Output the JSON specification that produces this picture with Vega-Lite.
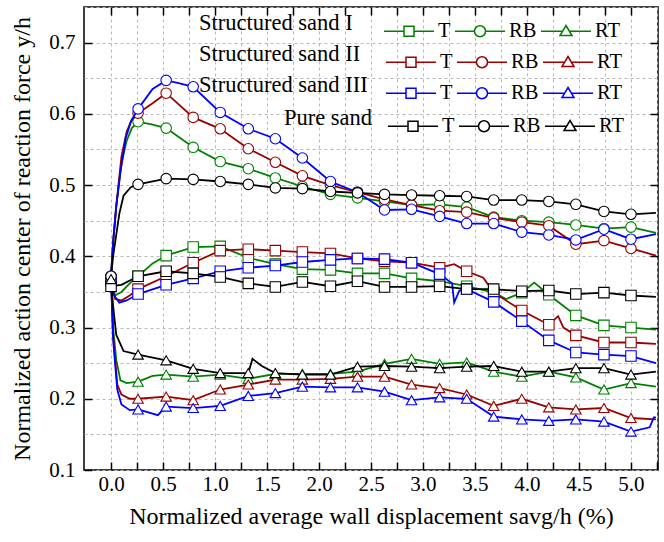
{
"$schema":"https://vega.github.io/schema/vega-lite/v6.json",
"width":574,"height":463,
"autosize":"none",
"padding":{"left":84,"top":7,"right":6,"bottom":72},
"background":"white",
"config":{
 "font":"Liberation Serif",
 "view":{"stroke":"black","strokeWidth":1.5},
 "axis":{"labelFont":"Liberation Serif","titleFont":"Liberation Serif","labelColor":"black","titleColor":"black","labelFontSize":21,"titleFontSize":24,"titleFontWeight":"normal","gridColor":"#b8b8b8","gridDash":[3,3],"gridWidth":1,"tickColor":"black","tickWidth":1.5,"domain":false},
 "legend":{"orient":"none","padding":0,"titleOrient":"left","titleAngle":0,"titleFont":"Liberation Serif","titleFontSize":22.5,"titleFontWeight":"normal","titleColor":"black","titleBaseline":"middle","titleAnchor":"middle","labelFont":"Liberation Serif","labelFontSize":20.5,"labelColor":"black","symbolSize":2500,"direction":"vertical","columns":3,"columnPadding":1,"labelOffset":3,"symbolStrokeWidth":1.5}
},
"datasets":{"d":[
{"s":"I","p":"T","x":0,"y":0.365},{"s":"I","p":"T","x":0.04,"y":0.345},{"s":"I","p":"T","x":0.1,"y":0.35},{"s":"I","p":"T","x":0.18,"y":0.362},{"s":"I","p":"T","x":0.26,"y":0.372},{"s":"I","p":"T","x":0.4,"y":0.39},{"s":"I","p":"T","x":0.53,"y":0.401},{"s":"I","p":"T","x":0.79,"y":0.413},{"s":"I","p":"T","x":1.05,"y":0.414},{"s":"I","p":"T","x":1.32,"y":0.398},{"s":"I","p":"T","x":1.58,"y":0.389},{"s":"I","p":"T","x":1.84,"y":0.382},{"s":"I","p":"T","x":2.11,"y":0.381},{"s":"I","p":"T","x":2.37,"y":0.376},{"s":"I","p":"T","x":2.63,"y":0.376},{"s":"I","p":"T","x":2.89,"y":0.369},{"s":"I","p":"T","x":3.16,"y":0.365},{"s":"I","p":"T","x":3.42,"y":0.358},{"s":"I","p":"T","x":3.68,"y":0.349},{"s":"I","p":"T","x":3.8,"y":0.34},{"s":"I","p":"T","x":3.95,"y":0.349},{"s":"I","p":"T","x":4.07,"y":0.363},{"s":"I","p":"T","x":4.21,"y":0.346},{"s":"I","p":"T","x":4.47,"y":0.317},{"s":"I","p":"T","x":4.74,"y":0.303},{"s":"I","p":"T","x":5,"y":0.3},{"s":"I","p":"T","x":5.24,"y":0.297},
{"s":"I","p":"RB","x":0,"y":0.372},{"s":"I","p":"RB","x":0.02,"y":0.42},{"s":"I","p":"RB","x":0.05,"y":0.47},{"s":"I","p":"RB","x":0.1,"y":0.53},{"s":"I","p":"RB","x":0.15,"y":0.562},{"s":"I","p":"RB","x":0.2,"y":0.58},{"s":"I","p":"RB","x":0.26,"y":0.589},{"s":"I","p":"RB","x":0.4,"y":0.585},{"s":"I","p":"RB","x":0.53,"y":0.58},{"s":"I","p":"RB","x":0.79,"y":0.553},{"s":"I","p":"RB","x":1.05,"y":0.533},{"s":"I","p":"RB","x":1.32,"y":0.523},{"s":"I","p":"RB","x":1.58,"y":0.51},{"s":"I","p":"RB","x":1.84,"y":0.498},{"s":"I","p":"RB","x":2.11,"y":0.487},{"s":"I","p":"RB","x":2.37,"y":0.482},{"s":"I","p":"RB","x":2.63,"y":0.477},{"s":"I","p":"RB","x":2.89,"y":0.472},{"s":"I","p":"RB","x":3.16,"y":0.473},{"s":"I","p":"RB","x":3.42,"y":0.469},{"s":"I","p":"RB","x":3.68,"y":0.455},{"s":"I","p":"RB","x":3.95,"y":0.45},{"s":"I","p":"RB","x":4.21,"y":0.448},{"s":"I","p":"RB","x":4.47,"y":0.444},{"s":"I","p":"RB","x":4.74,"y":0.439},{"s":"I","p":"RB","x":5,"y":0.441},{"s":"I","p":"RB","x":5.24,"y":0.433},
{"s":"I","p":"RT","x":0,"y":0.368},{"s":"I","p":"RT","x":0.02,"y":0.3},{"s":"I","p":"RT","x":0.05,"y":0.255},{"s":"I","p":"RT","x":0.09,"y":0.226},{"s":"I","p":"RT","x":0.15,"y":0.222},{"s":"I","p":"RT","x":0.26,"y":0.224},{"s":"I","p":"RT","x":0.4,"y":0.232},{"s":"I","p":"RT","x":0.53,"y":0.234},{"s":"I","p":"RT","x":0.79,"y":0.231},{"s":"I","p":"RT","x":1.05,"y":0.234},{"s":"I","p":"RT","x":1.32,"y":0.228},{"s":"I","p":"RT","x":1.58,"y":0.235},{"s":"I","p":"RT","x":1.84,"y":0.235},{"s":"I","p":"RT","x":2.11,"y":0.235},{"s":"I","p":"RT","x":2.37,"y":0.238},{"s":"I","p":"RT","x":2.63,"y":0.249},{"s":"I","p":"RT","x":2.89,"y":0.256},{"s":"I","p":"RT","x":3.16,"y":0.249},{"s":"I","p":"RT","x":3.42,"y":0.251},{"s":"I","p":"RT","x":3.68,"y":0.238},{"s":"I","p":"RT","x":3.95,"y":0.231},{"s":"I","p":"RT","x":4.21,"y":0.238},{"s":"I","p":"RT","x":4.47,"y":0.23},{"s":"I","p":"RT","x":4.74,"y":0.213},{"s":"I","p":"RT","x":5,"y":0.222},{"s":"I","p":"RT","x":5.24,"y":0.217},
{"s":"II","p":"T","x":0,"y":0.365},{"s":"II","p":"T","x":0.04,"y":0.34},{"s":"II","p":"T","x":0.1,"y":0.338},{"s":"II","p":"T","x":0.18,"y":0.345},{"s":"II","p":"T","x":0.26,"y":0.354},{"s":"II","p":"T","x":0.53,"y":0.372},{"s":"II","p":"T","x":0.79,"y":0.391},{"s":"II","p":"T","x":1.05,"y":0.408},{"s":"II","p":"T","x":1.32,"y":0.41},{"s":"II","p":"T","x":1.58,"y":0.408},{"s":"II","p":"T","x":1.84,"y":0.406},{"s":"II","p":"T","x":2.11,"y":0.404},{"s":"II","p":"T","x":2.37,"y":0.397},{"s":"II","p":"T","x":2.63,"y":0.393},{"s":"II","p":"T","x":2.89,"y":0.391},{"s":"II","p":"T","x":3.16,"y":0.384},{"s":"II","p":"T","x":3.3,"y":0.389},{"s":"II","p":"T","x":3.42,"y":0.379},{"s":"II","p":"T","x":3.58,"y":0.37},{"s":"II","p":"T","x":3.68,"y":0.349},{"s":"II","p":"T","x":3.95,"y":0.324},{"s":"II","p":"T","x":4.21,"y":0.304},{"s":"II","p":"T","x":4.3,"y":0.316},{"s":"II","p":"T","x":4.35,"y":0.3},{"s":"II","p":"T","x":4.47,"y":0.289},{"s":"II","p":"T","x":4.74,"y":0.279},{"s":"II","p":"T","x":5,"y":0.279},{"s":"II","p":"T","x":5.24,"y":0.277},
{"s":"II","p":"RB","x":0,"y":0.372},{"s":"II","p":"RB","x":0.02,"y":0.42},{"s":"II","p":"RB","x":0.05,"y":0.47},{"s":"II","p":"RB","x":0.1,"y":0.54},{"s":"II","p":"RB","x":0.15,"y":0.575},{"s":"II","p":"RB","x":0.2,"y":0.592},{"s":"II","p":"RB","x":0.26,"y":0.601},{"s":"II","p":"RB","x":0.4,"y":0.615},{"s":"II","p":"RB","x":0.53,"y":0.629},{"s":"II","p":"RB","x":0.6,"y":0.62},{"s":"II","p":"RB","x":0.79,"y":0.595},{"s":"II","p":"RB","x":1.05,"y":0.579},{"s":"II","p":"RB","x":1.32,"y":0.551},{"s":"II","p":"RB","x":1.58,"y":0.532},{"s":"II","p":"RB","x":1.84,"y":0.513},{"s":"II","p":"RB","x":2.11,"y":0.5},{"s":"II","p":"RB","x":2.37,"y":0.49},{"s":"II","p":"RB","x":2.63,"y":0.48},{"s":"II","p":"RB","x":2.89,"y":0.472},{"s":"II","p":"RB","x":3.16,"y":0.464},{"s":"II","p":"RB","x":3.42,"y":0.462},{"s":"II","p":"RB","x":3.68,"y":0.454},{"s":"II","p":"RB","x":3.95,"y":0.448},{"s":"II","p":"RB","x":4.21,"y":0.443},{"s":"II","p":"RB","x":4.47,"y":0.417},{"s":"II","p":"RB","x":4.74,"y":0.422},{"s":"II","p":"RB","x":5,"y":0.411},{"s":"II","p":"RB","x":5.24,"y":0.401},
{"s":"II","p":"RT","x":0,"y":0.368},{"s":"II","p":"RT","x":0.02,"y":0.29},{"s":"II","p":"RT","x":0.06,"y":0.22},{"s":"II","p":"RT","x":0.1,"y":0.206},{"s":"II","p":"RT","x":0.18,"y":0.2},{"s":"II","p":"RT","x":0.26,"y":0.2},{"s":"II","p":"RT","x":0.53,"y":0.203},{"s":"II","p":"RT","x":0.79,"y":0.198},{"s":"II","p":"RT","x":1.05,"y":0.213},{"s":"II","p":"RT","x":1.32,"y":0.22},{"s":"II","p":"RT","x":1.58,"y":0.227},{"s":"II","p":"RT","x":1.84,"y":0.227},{"s":"II","p":"RT","x":2.11,"y":0.228},{"s":"II","p":"RT","x":2.37,"y":0.231},{"s":"II","p":"RT","x":2.63,"y":0.231},{"s":"II","p":"RT","x":2.89,"y":0.22},{"s":"II","p":"RT","x":3.16,"y":0.215},{"s":"II","p":"RT","x":3.42,"y":0.206},{"s":"II","p":"RT","x":3.68,"y":0.19},{"s":"II","p":"RT","x":3.95,"y":0.2},{"s":"II","p":"RT","x":4.21,"y":0.188},{"s":"II","p":"RT","x":4.47,"y":0.185},{"s":"II","p":"RT","x":4.74,"y":0.187},{"s":"II","p":"RT","x":5,"y":0.173},{"s":"II","p":"RT","x":5.24,"y":0.171},
{"s":"III","p":"T","x":0,"y":0.365},{"s":"III","p":"T","x":0.03,"y":0.345},{"s":"III","p":"T","x":0.08,"y":0.335},{"s":"III","p":"T","x":0.15,"y":0.338},{"s":"III","p":"T","x":0.26,"y":0.347},{"s":"III","p":"T","x":0.53,"y":0.36},{"s":"III","p":"T","x":0.79,"y":0.369},{"s":"III","p":"T","x":1.05,"y":0.379},{"s":"III","p":"T","x":1.32,"y":0.384},{"s":"III","p":"T","x":1.58,"y":0.387},{"s":"III","p":"T","x":1.84,"y":0.392},{"s":"III","p":"T","x":2.11,"y":0.395},{"s":"III","p":"T","x":2.37,"y":0.397},{"s":"III","p":"T","x":2.63,"y":0.396},{"s":"III","p":"T","x":2.89,"y":0.391},{"s":"III","p":"T","x":3.16,"y":0.375},{"s":"III","p":"T","x":3.28,"y":0.362},{"s":"III","p":"T","x":3.3,"y":0.335},{"s":"III","p":"T","x":3.35,"y":0.352},{"s":"III","p":"T","x":3.42,"y":0.354},{"s":"III","p":"T","x":3.68,"y":0.336},{"s":"III","p":"T","x":3.95,"y":0.309},{"s":"III","p":"T","x":4.21,"y":0.282},{"s":"III","p":"T","x":4.47,"y":0.265},{"s":"III","p":"T","x":4.74,"y":0.262},{"s":"III","p":"T","x":5,"y":0.26},{"s":"III","p":"T","x":5.24,"y":0.25},
{"s":"III","p":"RB","x":0,"y":0.372},{"s":"III","p":"RB","x":0.02,"y":0.42},{"s":"III","p":"RB","x":0.05,"y":0.47},{"s":"III","p":"RB","x":0.09,"y":0.518},{"s":"III","p":"RB","x":0.14,"y":0.565},{"s":"III","p":"RB","x":0.19,"y":0.589},{"s":"III","p":"RB","x":0.26,"y":0.607},{"s":"III","p":"RB","x":0.4,"y":0.635},{"s":"III","p":"RB","x":0.53,"y":0.647},{"s":"III","p":"RB","x":0.65,"y":0.643},{"s":"III","p":"RB","x":0.79,"y":0.638},{"s":"III","p":"RB","x":1.05,"y":0.602},{"s":"III","p":"RB","x":1.32,"y":0.579},{"s":"III","p":"RB","x":1.58,"y":0.565},{"s":"III","p":"RB","x":1.84,"y":0.538},{"s":"III","p":"RB","x":2.11,"y":0.505},{"s":"III","p":"RB","x":2.37,"y":0.49},{"s":"III","p":"RB","x":2.63,"y":0.465},{"s":"III","p":"RB","x":2.89,"y":0.466},{"s":"III","p":"RB","x":3.16,"y":0.456},{"s":"III","p":"RB","x":3.42,"y":0.446},{"s":"III","p":"RB","x":3.68,"y":0.446},{"s":"III","p":"RB","x":3.95,"y":0.434},{"s":"III","p":"RB","x":4.21,"y":0.43},{"s":"III","p":"RB","x":4.47,"y":0.423},{"s":"III","p":"RB","x":4.74,"y":0.438},{"s":"III","p":"RB","x":5,"y":0.424},{"s":"III","p":"RB","x":5.24,"y":0.431},
{"s":"III","p":"RT","x":0,"y":0.368},{"s":"III","p":"RT","x":0.02,"y":0.283},{"s":"III","p":"RT","x":0.06,"y":0.213},{"s":"III","p":"RT","x":0.1,"y":0.192},{"s":"III","p":"RT","x":0.18,"y":0.184},{"s":"III","p":"RT","x":0.26,"y":0.185},{"s":"III","p":"RT","x":0.45,"y":0.177},{"s":"III","p":"RT","x":0.53,"y":0.189},{"s":"III","p":"RT","x":0.79,"y":0.187},{"s":"III","p":"RT","x":1.05,"y":0.19},{"s":"III","p":"RT","x":1.32,"y":0.204},{"s":"III","p":"RT","x":1.58,"y":0.208},{"s":"III","p":"RT","x":1.84,"y":0.217},{"s":"III","p":"RT","x":2.11,"y":0.216},{"s":"III","p":"RT","x":2.37,"y":0.216},{"s":"III","p":"RT","x":2.63,"y":0.21},{"s":"III","p":"RT","x":2.89,"y":0.198},{"s":"III","p":"RT","x":3.16,"y":0.202},{"s":"III","p":"RT","x":3.42,"y":0.2},{"s":"III","p":"RT","x":3.68,"y":0.175},{"s":"III","p":"RT","x":3.95,"y":0.171},{"s":"III","p":"RT","x":4.21,"y":0.169},{"s":"III","p":"RT","x":4.47,"y":0.171},{"s":"III","p":"RT","x":4.74,"y":0.168},{"s":"III","p":"RT","x":5,"y":0.154},{"s":"III","p":"RT","x":5.18,"y":0.16},{"s":"III","p":"RT","x":5.22,"y":0.174},{"s":"III","p":"RT","x":5.24,"y":0.174},
{"s":"P","p":"T","x":0,"y":0.358},{"s":"P","p":"T","x":0.1,"y":0.36},{"s":"P","p":"T","x":0.26,"y":0.372},{"s":"P","p":"T","x":0.53,"y":0.379},{"s":"P","p":"T","x":0.79,"y":0.376},{"s":"P","p":"T","x":1.05,"y":0.371},{"s":"P","p":"T","x":1.32,"y":0.362},{"s":"P","p":"T","x":1.58,"y":0.357},{"s":"P","p":"T","x":1.84,"y":0.364},{"s":"P","p":"T","x":2.11,"y":0.358},{"s":"P","p":"T","x":2.37,"y":0.365},{"s":"P","p":"T","x":2.63,"y":0.357},{"s":"P","p":"T","x":2.89,"y":0.357},{"s":"P","p":"T","x":3.16,"y":0.358},{"s":"P","p":"T","x":3.42,"y":0.354},{"s":"P","p":"T","x":3.68,"y":0.354},{"s":"P","p":"T","x":3.95,"y":0.351},{"s":"P","p":"T","x":4.21,"y":0.352},{"s":"P","p":"T","x":4.47,"y":0.347},{"s":"P","p":"T","x":4.74,"y":0.349},{"s":"P","p":"T","x":5,"y":0.345},{"s":"P","p":"T","x":5.24,"y":0.343},
{"s":"P","p":"RB","x":0,"y":0.372},{"s":"P","p":"RB","x":0.02,"y":0.4},{"s":"P","p":"RB","x":0.05,"y":0.43},{"s":"P","p":"RB","x":0.08,"y":0.46},{"s":"P","p":"RB","x":0.12,"y":0.485},{"s":"P","p":"RB","x":0.19,"y":0.497},{"s":"P","p":"RB","x":0.26,"y":0.501},{"s":"P","p":"RB","x":0.53,"y":0.509},{"s":"P","p":"RB","x":0.79,"y":0.508},{"s":"P","p":"RB","x":1.05,"y":0.505},{"s":"P","p":"RB","x":1.32,"y":0.501},{"s":"P","p":"RB","x":1.58,"y":0.496},{"s":"P","p":"RB","x":1.84,"y":0.495},{"s":"P","p":"RB","x":2.11,"y":0.491},{"s":"P","p":"RB","x":2.37,"y":0.489},{"s":"P","p":"RB","x":2.63,"y":0.487},{"s":"P","p":"RB","x":2.89,"y":0.486},{"s":"P","p":"RB","x":3.16,"y":0.485},{"s":"P","p":"RB","x":3.42,"y":0.484},{"s":"P","p":"RB","x":3.68,"y":0.479},{"s":"P","p":"RB","x":3.95,"y":0.479},{"s":"P","p":"RB","x":4.21,"y":0.477},{"s":"P","p":"RB","x":4.47,"y":0.473},{"s":"P","p":"RB","x":4.74,"y":0.463},{"s":"P","p":"RB","x":5,"y":0.459},{"s":"P","p":"RB","x":5.24,"y":0.461},
{"s":"P","p":"RT","x":0,"y":0.368},{"s":"P","p":"RT","x":0.02,"y":0.33},{"s":"P","p":"RT","x":0.05,"y":0.29},{"s":"P","p":"RT","x":0.12,"y":0.267},{"s":"P","p":"RT","x":0.26,"y":0.262},{"s":"P","p":"RT","x":0.53,"y":0.254},{"s":"P","p":"RT","x":0.79,"y":0.242},{"s":"P","p":"RT","x":1.05,"y":0.236},{"s":"P","p":"RT","x":1.32,"y":0.236},{"s":"P","p":"RT","x":1.36,"y":0.256},{"s":"P","p":"RT","x":1.45,"y":0.246},{"s":"P","p":"RT","x":1.58,"y":0.236},{"s":"P","p":"RT","x":1.84,"y":0.234},{"s":"P","p":"RT","x":2.11,"y":0.234},{"s":"P","p":"RT","x":2.37,"y":0.245},{"s":"P","p":"RT","x":2.63,"y":0.246},{"s":"P","p":"RT","x":2.89,"y":0.245},{"s":"P","p":"RT","x":3.16,"y":0.243},{"s":"P","p":"RT","x":3.42,"y":0.245},{"s":"P","p":"RT","x":3.68,"y":0.246},{"s":"P","p":"RT","x":3.95,"y":0.238},{"s":"P","p":"RT","x":4.21,"y":0.238},{"s":"P","p":"RT","x":4.47,"y":0.243},{"s":"P","p":"RT","x":4.74,"y":0.243},{"s":"P","p":"RT","x":5,"y":0.234},{"s":"P","p":"RT","x":5.24,"y":0.238}
]},
"data":{"name":"d"},
"layer":[
 {
  "encoding":{
   "x":{"field":"x","type":"quantitative","scale":{"domain":[-0.26,5.26],"nice":false,"zero":false},
     "axis":{"values":[0,0.25,0.5,0.75,1,1.25,1.5,1.75,2,2.25,2.5,2.75,3,3.25,3.5,3.75,4,4.25,4.5,4.75,5,5.25],
       "labelExpr":"round(datum.value*4) % 2 == 0 ? format(datum.value, '.1f') : ''",
       "tickSize":-8,"labelPadding":11,"grid":true,"title":"Normalized average wall displacement  savg/h (%)","titlePadding":10}},
   "y":{"field":"y","type":"quantitative","scale":{"domain":[0.1,0.75],"nice":false,"zero":false},
     "axis":{"values":[0.1,0.15,0.2,0.25,0.3,0.35,0.4,0.45,0.5,0.55,0.6,0.65,0.7,0.75],
       "labelExpr":"round(datum.value*20) % 2 == 0 ? format(datum.value, '.1f') : ''",
       "tickOpacity":{"condition":{"test":"round(datum.value*20) % 2 == 0","value":1},"value":0},
       "tickSize":-8,"labelPadding":17,"grid":true,"title":"Normalized action center of reaction force y/h","titlePadding":14}}
  },
  "layer":[
   {"transform":[{"filter":"datum.s==='I'"}],
    "encoding":{"color":{"field":"p","type":"nominal","sort":["T","RB","RT"],"scale":{"domain":["T","RB","RT"],"range":["#008000","#008000","#008000"]},
      "legend":{"title":"Structured sand I","legendX":115,"legendY":-2,"titlePadding":30,"encode":{"symbols":{"update":{"fill":{"value":"white"},"strokeWidth":{"value":1.5},"opacity":{"value":1},"shape":{"signal":"datum.value === 'T' ? 'M-1,0H-0.2M0.2,0H1M-0.2,-0.2H0.2V0.2H-0.2Z' : datum.value === 'RB' ? 'M-1,0H-0.22M0.22,0H1M-0.22,0A0.22,0.22,0,1,0,0.22,0A0.22,0.22,0,1,0,-0.22,0Z' : 'M-1,0H-0.14M0.14,0H1M0,-0.23L0.24,0.17H-0.24Z'"}}}}}}},
    "layer":[
     {"mark":{"type":"line","strokeWidth":1.8},"encoding":{"order":{"field":"x","type":"quantitative"}}},
     {"transform":[{"filter":"abs(datum.x*3.8-round(datum.x*3.8))<0.03"}],"mark":{"type":"point","filled":false,"fill":"white","strokeWidth":1.1,"size":110,"opacity":1},
      "encoding":{"shape":{"field":"p","type":"nominal","scale":{"domain":["T","RB","RT"],"range":["square","circle","triangle-up"]},"legend":null}}}
    ]},
   {"transform":[{"filter":"datum.s==='II'"}],
    "encoding":{"color":{"field":"p","type":"nominal","sort":["T","RB","RT"],"scale":{"domain":["T","RB","RT"],"range":["#990000","#990000","#990000"]},
      "legend":{"title":"Structured sand II","legendX":115,"legendY":29,"titlePadding":24,"encode":{"symbols":{"update":{"fill":{"value":"white"},"strokeWidth":{"value":1.5},"opacity":{"value":1},"shape":{"signal":"datum.value === 'T' ? 'M-1,0H-0.2M0.2,0H1M-0.2,-0.2H0.2V0.2H-0.2Z' : datum.value === 'RB' ? 'M-1,0H-0.22M0.22,0H1M-0.22,0A0.22,0.22,0,1,0,0.22,0A0.22,0.22,0,1,0,-0.22,0Z' : 'M-1,0H-0.14M0.14,0H1M0,-0.23L0.24,0.17H-0.24Z'"}}}}}}},
    "layer":[
     {"mark":{"type":"line","strokeWidth":1.8},"encoding":{"order":{"field":"x","type":"quantitative"}}},
     {"transform":[{"filter":"abs(datum.x*3.8-round(datum.x*3.8))<0.03"}],"mark":{"type":"point","filled":false,"fill":"white","strokeWidth":1.1,"size":110,"opacity":1},
      "encoding":{"shape":{"field":"p","type":"nominal","scale":{"domain":["T","RB","RT"],"range":["square","circle","triangle-up"]},"legend":null}}}
    ]},
   {"transform":[{"filter":"datum.s==='III'"}],
    "encoding":{"color":{"field":"p","type":"nominal","sort":["T","RB","RT"],"scale":{"domain":["T","RB","RT"],"range":["#0000ff","#0000ff","#0000ff"]},
      "legend":{"title":"Structured sand III","legendX":115,"legendY":60,"titlePadding":17,"encode":{"symbols":{"update":{"fill":{"value":"white"},"strokeWidth":{"value":1.5},"opacity":{"value":1},"shape":{"signal":"datum.value === 'T' ? 'M-1,0H-0.2M0.2,0H1M-0.2,-0.2H0.2V0.2H-0.2Z' : datum.value === 'RB' ? 'M-1,0H-0.22M0.22,0H1M-0.22,0A0.22,0.22,0,1,0,0.22,0A0.22,0.22,0,1,0,-0.22,0Z' : 'M-1,0H-0.14M0.14,0H1M0,-0.23L0.24,0.17H-0.24Z'"}}}}}}},
    "layer":[
     {"mark":{"type":"line","strokeWidth":1.8},"encoding":{"order":{"field":"x","type":"quantitative"}}},
     {"transform":[{"filter":"abs(datum.x*3.8-round(datum.x*3.8))<0.03"}],"mark":{"type":"point","filled":false,"fill":"white","strokeWidth":1.1,"size":110,"opacity":1},
      "encoding":{"shape":{"field":"p","type":"nominal","scale":{"domain":["T","RB","RT"],"range":["square","circle","triangle-up"]},"legend":null}}}
    ]},
   {"transform":[{"filter":"datum.s==='P'"}],
    "encoding":{"color":{"field":"p","type":"nominal","sort":["T","RB","RT"],"scale":{"domain":["T","RB","RT"],"range":["#000000","#000000","#000000"]},
      "legend":{"title":"Pure sand","legendX":200,"legendY":93,"titlePadding":14,"encode":{"symbols":{"update":{"fill":{"value":"white"},"strokeWidth":{"value":1.5},"opacity":{"value":1},"shape":{"signal":"datum.value === 'T' ? 'M-1,0H-0.2M0.2,0H1M-0.2,-0.2H0.2V0.2H-0.2Z' : datum.value === 'RB' ? 'M-1,0H-0.22M0.22,0H1M-0.22,0A0.22,0.22,0,1,0,0.22,0A0.22,0.22,0,1,0,-0.22,0Z' : 'M-1,0H-0.14M0.14,0H1M0,-0.23L0.24,0.17H-0.24Z'"}}}}}}},
    "layer":[
     {"mark":{"type":"line","strokeWidth":1.8},"encoding":{"order":{"field":"x","type":"quantitative"}}},
     {"transform":[{"filter":"abs(datum.x*3.8-round(datum.x*3.8))<0.03"}],"mark":{"type":"point","filled":false,"fill":"white","strokeWidth":1.1,"size":110,"opacity":1},
      "encoding":{"shape":{"field":"p","type":"nominal","scale":{"domain":["T","RB","RT"],"range":["square","circle","triangle-up"]},"legend":null}}}
    ]}
  ],
  "resolve":{"scale":{"color":"independent"}}
 },
 {
  "mark":{"type":"point","opacity":0},
  "encoding":{
   "x":{"field":"x","type":"quantitative","scale":{"domain":[-0.26,5.26],"nice":false,"zero":false},
     "axis":{"orient":"top","values":[0,0.25,0.5,0.75,1,1.25,1.5,1.75,2,2.25,2.5,2.75,3,3.25,3.5,3.75,4,4.25,4.5,4.75,5],"labels":false,"title":null,"grid":false,"tickSize":-8}},
   "y":{"field":"y","type":"quantitative","scale":{"domain":[0.1,0.75],"nice":false,"zero":false},
     "axis":{"orient":"right","values":[0.2,0.3,0.4,0.5,0.6,0.7],"labels":false,"title":null,"grid":false,"tickSize":-8}}
  }
 }
],
"resolve":{"axis":{"x":"independent","y":"independent"}}
}
